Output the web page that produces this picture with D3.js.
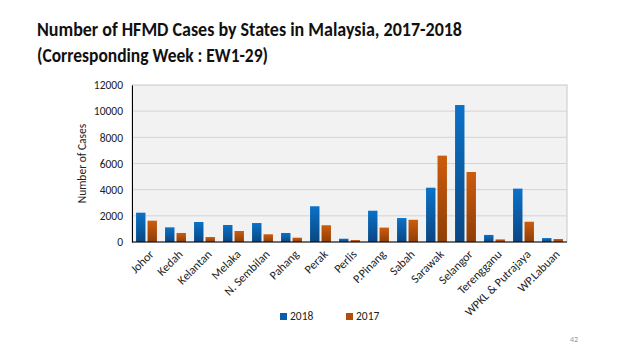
<!DOCTYPE html>
<html><head><meta charset="utf-8">
<script src="https://cdn.jsdelivr.net/npm/d3@7"></script>
<style>body{margin:0;background:#fff;} svg{display:block;}</style>
</head><body>
<svg id="c" width="638" height="359"></svg>
<script>
const categories = ["Johor","Kedah","Kelantan","Melaka","N. Sembilan","Pahang","Perak","Perlis","P.Pinang","Sabah","Sarawak","Selangor","Terengganu","WPKL & Putrajaya","WP.Labuan"];
const values2018 = [2240,1120,1530,1300,1450,690,2730,250,2390,1830,4150,10470,540,4080,300];
const values2017 = [1630,690,380,840,590,330,1280,150,1100,1700,6600,5350,200,1550,230];
const seriesNames = ["2018","2017"];
const yTicks = [0,2000,4000,6000,8000,10000,12000];

const svg = d3.select("#c");
const font = "Calibri, Carlito, 'Open Sans', sans-serif";
const m = {l:132, r:567, t:85, b:242};

const defs = svg.append("defs");
function grad(id, c1, c2){
  const g = defs.append("linearGradient").attr("id",id).attr("x1",0).attr("y1",0).attr("x2",0).attr("y2",1);
  g.append("stop").attr("offset","0%").attr("stop-color",c1);
  g.append("stop").attr("offset","100%").attr("stop-color",c2);
}
grad("gb","#0a72c8","#0a4682");
grad("go","#cc5c0c","#8e3e08");

svg.append("text").attr("x",37).attr("y",36).attr("font-family",font).attr("font-weight","bold")
  .attr("font-size",21).attr("fill","#111").attr("textLength",425).attr("lengthAdjust","spacingAndGlyphs")
  .text("Number of HFMD Cases by States in Malaysia, 2017-2018");
svg.append("text").attr("x",37).attr("y",62).attr("font-family",font).attr("font-weight","bold")
  .attr("font-size",21).attr("fill","#111").attr("textLength",231).attr("lengthAdjust","spacingAndGlyphs")
  .text("(Corresponding Week : EW1-29)");

const x = d3.scaleBand().domain(categories).range([m.l,m.r]).paddingInner(0.28).paddingOuter(0.14);
const xs = d3.scaleBand().domain(seriesNames).range([0,x.bandwidth()]).paddingInner(0.18);
const y = d3.scaleLinear().domain([0,12000]).range([m.b,m.t]);

svg.append("rect").attr("x",m.l).attr("y",m.t).attr("width",m.r-m.l).attr("height",m.b-m.t)
  .attr("fill","#f2f2f2").attr("stroke","#c8c8c8");

svg.append("g").selectAll("line").data(yTicks.slice(1,-1)).join("line")
  .attr("x1",m.l).attr("x2",m.r).attr("y1",d=>y(d)).attr("y2",d=>y(d)).attr("stroke","#d4d4d4");

const yAxis = d3.axisLeft(y).tickValues(yTicks).tickFormat(d3.format("d")).tickSize(0).tickPadding(9);
const ga = svg.append("g").attr("transform",`translate(${m.l},0)`).call(yAxis);
ga.select(".domain").attr("stroke","#000");
ga.selectAll("text").attr("font-family",font).attr("font-size",11.5).attr("fill","#222");

const groups = svg.append("g").selectAll("g").data(categories).join("g")
  .attr("transform",d=>`translate(${x(d)},0)`);
groups.append("rect").attr("x",xs("2018")).attr("width",xs.bandwidth())
  .attr("y",(d,i)=>y(values2018[i])).attr("height",(d,i)=>y(0)-y(values2018[i])).attr("fill","url(#gb)");
groups.append("rect").attr("x",xs("2017")).attr("width",xs.bandwidth())
  .attr("y",(d,i)=>y(values2017[i])).attr("height",(d,i)=>y(0)-y(values2017[i])).attr("fill","url(#go)");

svg.append("line").attr("x1",m.l).attr("x2",m.r).attr("y1",m.b).attr("y2",m.b).attr("stroke","#000").attr("stroke-width",1.2);

const xAxis = d3.axisBottom(x).tickSize(0).tickPadding(0);
const gx = svg.append("g").attr("transform",`translate(0,${m.b})`).call(xAxis);
gx.select(".domain").remove();
gx.selectAll("text").attr("font-family",font).attr("font-size",12).attr("fill","#222")
  .attr("text-anchor","end").attr("dy",0).attr("y",0)
  .attr("transform","translate(8,13) rotate(-45)");

svg.append("text").attr("transform",`translate(86,${(m.t+m.b)/2}) rotate(-90)`)
  .attr("text-anchor","middle").attr("font-family",font).attr("font-size",11.5).attr("fill","#222")
  .text("Number of Cases");

const leg = svg.append("g").selectAll("g").data(seriesNames).join("g")
  .attr("transform",(d,i)=>`translate(${280+i*66},320)`);
leg.append("rect").attr("x",0).attr("y",-7).attr("width",7).attr("height",7)
  .attr("fill",(d,i)=>i===0?"#0a5ca6":"#b04e0a");
leg.append("text").attr("x",10).attr("y",0).attr("font-family",font).attr("font-size",11.5).attr("fill","#222").text(d=>d);

svg.append("text").attr("x",578).attr("y",342).attr("text-anchor","end").attr("font-family",font)
  .attr("font-size",8).attr("fill","#999").text("42");
</script>
</body></html>
